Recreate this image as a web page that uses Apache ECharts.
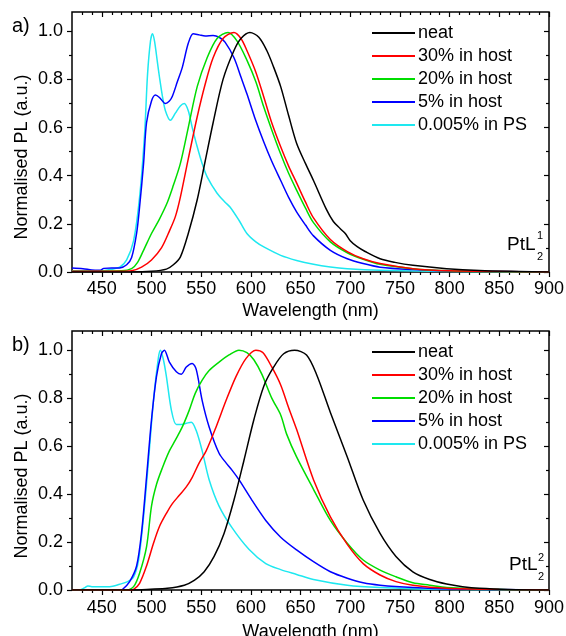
<!DOCTYPE html>
<html>
<head>
<meta charset="utf-8">
<script src="https://cdn.jsdelivr.net/npm/echarts@6/dist/echarts.min.js"></script>
<style>
html,body{margin:0;padding:0;background:#fff;}
#chart{width:566px;height:636px;}
</style>
</head>
<body>
<div id="chart"></div>
<script>
// ---- tick labels ----
const xMajor = [450, 500, 550, 600, 650, 700, 750, 800, 850, 900];
const xMinor = [430, 440, 460, 470, 480, 490, 510, 520, 530, 540, 560, 570, 580, 590, 610, 620, 630, 640,
  660, 670, 680, 690, 710, 720, 730, 740, 760, 770, 780, 790, 810, 820, 830, 840, 860, 870, 880, 890];
const yMajor = [0, 0.2, 0.4, 0.6, 0.8, 1.0];
const yMinor = [0.1, 0.3, 0.5, 0.7, 0.9];

const seriesNames = ['neat', '30% in host', '20% in host', '5% in host', '0.005% in PS'];
const seriesColors = ['#000000', '#ff0000', '#00dd00', '#0000ff', '#1ee8f0'];

// ---- panel a) PtL2^1 : [wavelength nm, normalised PL] ----
const a_neat = [[420,0],[480,0],[500,0.003],[515,0.012],[522,0.03],[529,0.062],[537,0.16],[546,0.3],[554,0.46],[562,0.62],[572,0.8],[583,0.92],[590,0.97],[599,0.995],[608,0.975],[616,0.92],[623,0.85],[630,0.77],[638,0.65],[646,0.535],[655,0.45],[663,0.38],[676,0.26],[683,0.21],[690,0.18],[695,0.16],[700,0.13],[707,0.105],[715,0.085],[730,0.055],[745,0.04],[763,0.028],[797,0.014],[830,0.006],[870,0.002],[900,0]];
const a_30 = [[420,0.003],[470,0.003],[480,0.005],[490,0.02],[500,0.05],[510,0.1],[518,0.17],[524,0.23],[529,0.31],[537,0.47],[546,0.645],[554,0.78],[562,0.89],[572,0.97],[583,0.995],[590,0.97],[596,0.92],[605,0.83],[613,0.727],[621,0.62],[630,0.52],[638,0.44],[646,0.37],[655,0.29],[663,0.225],[680,0.135],[697,0.085],[713,0.055],[730,0.035],[763,0.014],[800,0.005],[850,0.002],[900,0]];
const a_20 = [[420,0.003],[470,0.005],[480,0.014],[486,0.04],[492,0.09],[500,0.16],[508,0.22],[516,0.29],[522,0.36],[529,0.45],[537,0.6],[546,0.77],[556,0.89],[566,0.97],[577,0.995],[586,0.96],[596,0.88],[605,0.79],[613,0.685],[621,0.59],[630,0.49],[638,0.41],[646,0.34],[655,0.265],[663,0.205],[680,0.125],[697,0.08],[713,0.053],[730,0.032],[763,0.014],[800,0.005],[850,0.001],[900,0]];
const a_5 = [[420,0.017],[431,0.014],[440,0.008],[448,0.007],[452,0.015],[460,0.017],[468,0.017],[475,0.03],[480,0.06],[485,0.16],[488,0.27],[492,0.45],[495,0.62],[500,0.71],[504,0.735],[508,0.725],[514,0.7],[518,0.71],[521,0.73],[526,0.79],[531,0.85],[537,0.95],[542,0.99],[548,0.985],[554,0.98],[562,0.982],[568,0.975],[574,0.955],[583,0.89],[590,0.81],[596,0.74],[604,0.64],[613,0.54],[621,0.46],[630,0.38],[638,0.31],[646,0.25],[655,0.195],[663,0.15],[680,0.09],[697,0.055],[713,0.035],[730,0.02],[763,0.01],[800,0.004],[900,0]];
const a_ps = [[420,0.005],[450,0.005],[458,0.01],[468,0.02],[475,0.05],[482,0.13],[488,0.31],[493,0.57],[496,0.82],[499,0.96],[501,0.99],[503,0.96],[506,0.87],[508,0.81],[511,0.73],[514,0.67],[519,0.63],[524,0.66],[529,0.69],[533,0.7],[537,0.67],[541,0.6],[546,0.52],[551,0.45],[556,0.395],[566,0.327],[574,0.29],[579,0.27],[588,0.215],[596,0.16],[605,0.125],[613,0.104],[630,0.069],[646,0.048],[663,0.032],[680,0.021],[697,0.014],[730,0.007],[780,0.003],[900,0]];

// ---- panel b) PtL2^2 ----
const b_neat = [[420,0],[480,0],[499,0.003],[516,0.007],[533,0.02],[543,0.04],[553,0.076],[563,0.14],[573,0.236],[583,0.375],[593,0.54],[603,0.71],[613,0.85],[623,0.93],[633,0.985],[644,1.0],[656,0.98],[666,0.9],[680,0.74],[697,0.555],[713,0.375],[730,0.236],[746,0.14],[763,0.076],[780,0.044],[797,0.025],[813,0.014],[830,0.007],[860,0.002],[900,0]];
const b_30 = [[420,0],[478,0],[482,0.003],[488,0.028],[495,0.1],[502,0.195],[508,0.265],[515,0.32],[521,0.36],[528,0.395],[535,0.43],[541,0.47],[548,0.53],[555,0.58],[565,0.68],[575,0.79],[585,0.89],[595,0.965],[605,1.0],[612,0.99],[621,0.93],[630,0.855],[638,0.76],[646,0.67],[663,0.46],[680,0.305],[697,0.19],[713,0.11],[730,0.0625],[746,0.035],[763,0.02],[797,0.007],[850,0.002],[900,0]];
const b_20 = [[420,0],[474,0],[482,0.014],[488,0.07],[495,0.18],[500,0.35],[505,0.44],[511,0.51],[518,0.58],[524,0.625],[531,0.68],[538,0.75],[544,0.82],[551,0.875],[558,0.915],[568,0.95],[578,0.98],[588,1.0],[596,0.99],[603,0.96],[611,0.9],[621,0.8],[630,0.73],[636,0.65],[646,0.555],[663,0.42],[680,0.29],[697,0.195],[713,0.125],[730,0.083],[746,0.055],[763,0.03],[780,0.02],[797,0.01],[850,0.002],[900,0]];
const b_5 = [[420,0],[468,0],[471,0.003],[478,0.035],[485,0.1],[490,0.24],[495,0.47],[500,0.71],[505,0.89],[510,0.985],[513,1.0],[518,0.95],[525,0.91],[530,0.9],[535,0.93],[541,0.945],[545,0.92],[551,0.79],[558,0.68],[568,0.57],[575,0.53],[581,0.5],[588,0.46],[601,0.375],[615,0.29],[630,0.22],[646,0.167],[663,0.118],[680,0.076],[697,0.049],[713,0.03],[730,0.02],[763,0.01],[800,0.004],[900,0]];
const b_ps = [[420,0],[428,0],[433,0.01],[436,0.017],[440,0.014],[450,0.014],[458,0.014],[468,0.024],[476,0.035],[482,0.055],[487,0.125],[492,0.305],[497,0.54],[502,0.79],[507,0.97],[509,1.0],[512,0.96],[515,0.89],[520,0.75],[525,0.69],[530,0.69],[535,0.695],[540,0.7],[545,0.665],[551,0.58],[558,0.46],[568,0.35],[581,0.26],[598,0.17],[615,0.11],[630,0.085],[646,0.065],[663,0.044],[697,0.02],[730,0.01],[780,0.003],[900,0]];

const panelA = [a_neat, a_30, a_20, a_5, a_ps];
const panelB = [b_neat, b_30, b_20, b_5, b_ps];

const FONT = 'Liberation Sans, Arial, sans-serif';
const grids = [
  {left: 72, top: 12, width: 477, height: 260},
  {left: 72, top: 331, width: 477, height: 259}
];
const labelMargins = [8, 9];
const nameGaps = [30, 33];

const xAxes = [], yAxes = [], series = [];
const tickStyle = {color: '#000', width: 1.2};

grids.forEach((g, gi) => {
  const base = {gridIndex: gi, type: 'value', min: 420, max: 900, splitLine: {show: false},
    axisLine: {show: false, onZero: false}};
  xAxes.push(Object.assign({}, base, {
    position: 'bottom',
    axisTick: {show: true, inside: false, length: 5, customValues: xMajor, lineStyle: tickStyle},
    axisLabel: {customValues: xMajor, fontSize: 18, color: '#000', fontFamily: FONT, margin: labelMargins[gi]},
    name: 'Wavelength (nm)', nameLocation: 'middle', nameGap: nameGaps[gi], nameMoveOverlap: false,
    nameTextStyle: {fontSize: 18, color: '#000', fontFamily: FONT}
  }));
  xAxes.push(Object.assign({}, base, {
    position: 'bottom',
    axisTick: {show: true, inside: false, length: 3, customValues: xMinor, lineStyle: tickStyle},
    axisLabel: {show: false}
  }));
  xAxes.push(Object.assign({}, base, {
    position: 'top',
    axisTick: {show: true, inside: true, length: 5, customValues: xMajor, lineStyle: tickStyle},
    axisLabel: {show: false}
  }));
  xAxes.push(Object.assign({}, base, {
    position: 'top',
    axisTick: {show: true, inside: true, length: 3, customValues: xMinor, lineStyle: tickStyle},
    axisLabel: {show: false}
  }));
  const ybase = {gridIndex: gi, type: 'value', min: 0, max: 1.08, splitLine: {show: false},
    axisLine: {show: false, onZero: false}};
  yAxes.push(Object.assign({}, ybase, {
    position: 'left',
    axisTick: {show: true, inside: false, length: 5, customValues: yMajor, lineStyle: tickStyle},
    axisLabel: {customValues: yMajor, fontSize: 18, color: '#000', fontFamily: FONT, margin: 9,
      formatter: v => v.toFixed(1)}
  }));
  yAxes.push(Object.assign({}, ybase, {
    position: 'left',
    axisTick: {show: true, inside: false, length: 3, customValues: yMinor, lineStyle: tickStyle},
    axisLabel: {show: false}
  }));
  yAxes.push(Object.assign({}, ybase, {
    position: 'right',
    axisTick: {show: true, inside: true, length: 5, customValues: yMajor, lineStyle: tickStyle},
    axisLabel: {show: false}
  }));
  yAxes.push(Object.assign({}, ybase, {
    position: 'right',
    axisTick: {show: true, inside: true, length: 3, customValues: yMinor, lineStyle: tickStyle},
    axisLabel: {show: false}
  }));
  const panel = gi === 0 ? panelA : panelB;
  panel.forEach((d, si) => {
    series.push({
      type: 'line', name: seriesNames[si], xAxisIndex: gi * 4, yAxisIndex: gi * 4,
      data: d, symbol: 'none', showSymbol: false, smooth: 0.3,
      lineStyle: {color: seriesColors[si], width: 1.5}, itemStyle: {color: seriesColors[si]},
      z: 10 - si, animation: false
    });
  });
});

const legendBase = {orient: 'vertical', left: 372, padding: 0, icon: 'rect', itemWidth: 43, itemHeight: 2, itemGap: 5,
  textStyle: {fontSize: 18, color: '#000', fontFamily: FONT, padding: [0, 0, 0, -2]},
  data: seriesNames, selectedMode: false};

const txt = (x, y, text, size) => ({type: 'text', x: x, y: y,
  style: {text: text, font: size + 'px ' + FONT, fill: '#000', align: 'left', verticalAlign: 'top'}});

const chart = echarts.init(document.getElementById('chart'), null, {renderer: 'canvas'});
chart.setOption({
  backgroundColor: '#ffffff',
  animation: false,
  grid: grids.map(g => Object.assign({show: true, borderColor: '#000', borderWidth: 1.5,
    backgroundColor: 'transparent', containLabel: false, outerBoundsMode: 'none'}, g)),
  xAxis: xAxes,
  yAxis: yAxes,
  legend: [
    Object.assign({}, legendBase, {top: 24}),
    Object.assign({}, legendBase, {top: 343})
  ],
  graphic: [
    txt(12, 16, 'a)', 20),
    txt(12, 335, 'b)', 20),
    {type: 'text', x: 22, y: 157, rotation: Math.PI / 2,
      style: {text: 'Normalised PL (a.u.)', font: '18px ' + FONT, fill: '#000', align: 'center', verticalAlign: 'middle'}},
    {type: 'text', x: 22, y: 476, rotation: Math.PI / 2,
      style: {text: 'Normalised PL (a.u.)', font: '18px ' + FONT, fill: '#000', align: 'center', verticalAlign: 'middle'}},
    txt(507, 235, 'PtL', 19),
    txt(537, 230, '1', 11),
    txt(537, 251, '2', 11),
    txt(509, 555, 'PtL', 19),
    txt(538, 552, '2', 11),
    txt(538, 571, '2', 11)
  ],
  series: series
});
</script>
</body>
</html>
